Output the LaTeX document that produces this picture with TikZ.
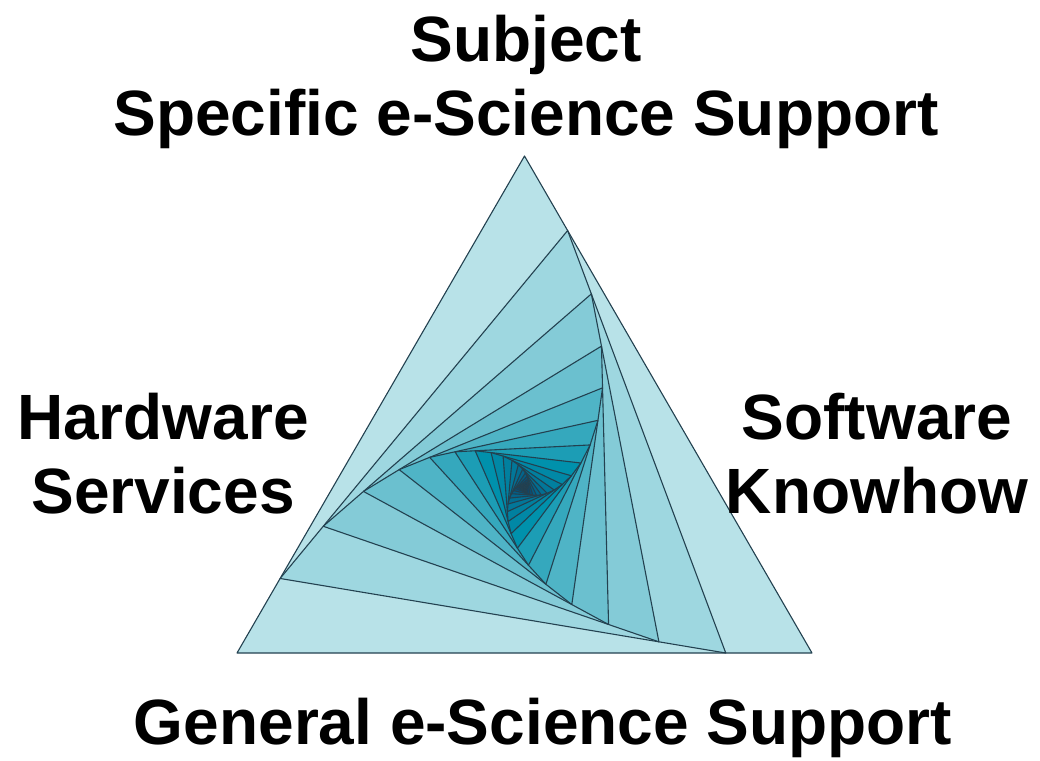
\documentclass[tikz,border=0pt]{standalone}
\usepackage{fontspec}
\setmainfont{Liberation Sans}
\usetikzlibrary{calc}

\definecolor{whirlLight}{RGB}{184,226,232}
\definecolor{whirlMid}{RGB}{0,145,172}
\definecolor{whirlDark}{RGB}{8,20,80}
\definecolor{whirlLine}{RGB}{35,65,80}

\begin{document}
\begin{tikzpicture}
        [x = 1pt, y = -1pt,
            line join = round,
            big label/.style = {font=\fontsize{64}{74}\selectfont\bfseries, align=center, inner sep=0pt},
            band/.style = {draw=whirlLine, line width=1.1pt}]

        \useasboundingbox (0,0) rectangle (1040,760);

        \coordinate (a0) at (237,653);
        \coordinate (b0) at (812,653);
        \coordinate (c0) at (524.5,156);

        \foreach \i [remember=\i as \j (initially 0)] in {1,...,24} {
            \coordinate (a\i) at ($(a\j)!0.85!(b\j)$);
            \coordinate (b\i) at ($(b\j)!0.85!(c\j)$);
            \coordinate (c\i) at ($(c\j)!0.85!(a\j)$);
        }

        \foreach \i in {0,...,24} {
            \pgfmathtruncatemacro\mix{\i<7 ? 100*\i/7 : min(100,100*(\i-7)/14)}
            \ifnum\i<7 \def\tint{whirlMid!\mix!whirlLight}\else \def\tint{whirlDark!\mix!whirlMid}\fi
            \filldraw[band, fill=\tint] (a\i) -- (b\i) -- (c\i) -- cycle;
        }

        \node[big label, anchor=base] (subject) at (526,135) {Subject\\Specific e-Science Support};
        \node[big label, anchor=base] (hardware) at (163,513) {Hardware\\Services};
        \node[big label, anchor=base] (software) at (877,513) {Software\\Knowhow};
        \node[big label, anchor=base] (general) at (543,744) {General e-Science Support};
    \end{tikzpicture}
\end{document}
